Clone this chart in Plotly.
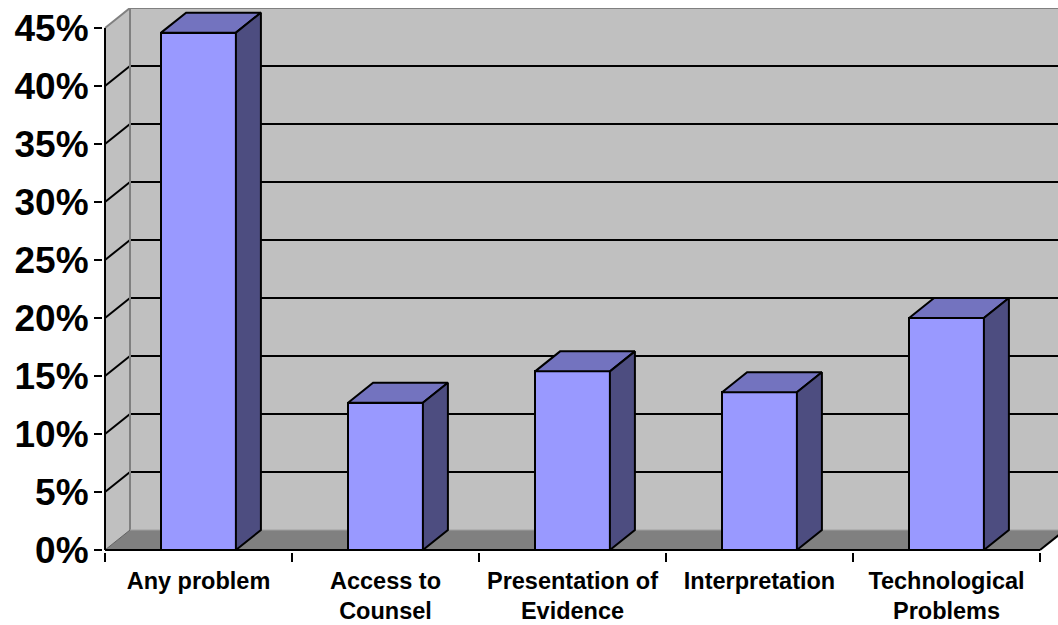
import plotly.graph_objects as go

# ---------------- data ----------------
categories = ["Any problem", "Access to<br>Counsel", "Presentation of<br>Evidence",
              "Interpretation", "Technological<br>Problems"]
values = [44.6, 12.7, 15.4, 13.6, 20.0]
y_ticks = [0, 5, 10, 15, 20, 25, 30, 35, 40, 45]
y_tick_labels = [f"{v}%" for v in y_ticks]

# ---------------- geometry (3D look) ----------------
W, H = 1058, 625
PX_X = 187.0          # pixels per category
PX_Y = 11.6           # pixels per percent
DX = 25 / PX_X        # depth offset in category units
DY = 20 / PX_Y        # depth offset in percent units
BAR_W = 0.40
YMAX = 45
N = len(categories)

FRONT = "#9999FF"
TOP = "#7373BF"
SIDE = "#4D4D80"
WALL = "#C0C0C0"
FLOOR = "#808080"
EDGE = "#808080"

fig = go.Figure()

# front faces
centers = [i + 0.5 for i in range(N)]
fig.add_trace(go.Bar(
    x=centers, y=values, width=BAR_W,
    marker=dict(color=FRONT, line=dict(color="black", width=2)),
    hoverinfo="skip", showlegend=False,
))

# top and side faces
for c, v in zip(centers, values):
    x0, x1 = c - BAR_W / 2, c + BAR_W / 2
    fig.add_trace(go.Scatter(
        x=[x0, x1, x1 + DX, x0 + DX, x0],
        y=[v, v, v + DY, v + DY, v],
        mode="lines", fill="toself", fillcolor=TOP,
        line=dict(color="black", width=2), hoverinfo="skip", showlegend=False))
    fig.add_trace(go.Scatter(
        x=[x1, x1 + DX, x1 + DX, x1, x1],
        y=[0, DY, v + DY, v, 0],
        mode="lines", fill="toself", fillcolor=SIDE,
        line=dict(color="black", width=2), hoverinfo="skip", showlegend=False))

shapes = []
XR = N + 2 * DX + 0.5
# back wall
shapes.append(dict(type="rect", xref="x", yref="y", x0=DX, x1=XR, y0=DY, y1=YMAX + DY,
                   fillcolor=WALL, line=dict(width=0), layer="below"))
# left wall
shapes.append(dict(type="path", xref="x", yref="y",
                   path=f"M 0 0 L {DX} {DY} L {DX} {YMAX + DY} L 0 {YMAX} Z",
                   fillcolor=WALL, line=dict(width=0), layer="below"))
# floor
shapes.append(dict(type="path", xref="x", yref="y",
                   path=f"M 0 0 L {N} 0 L {N + DX} {DY} L {XR} {DY} L {XR} {DY} L {DX} {DY} Z",
                   fillcolor=FLOOR, line=dict(width=0), layer="below"))
# gridlines
for v in y_ticks[1:-1]:
    shapes.append(dict(type="line", xref="x", yref="y", x0=0, y0=v, x1=DX, y1=v + DY,
                       line=dict(color="black", width=2), layer="below"))
    shapes.append(dict(type="line", xref="x", yref="y", x0=DX, y0=v + DY, x1=XR, y1=v + DY,
                       line=dict(color="black", width=2), layer="below"))
# wall edges (grey)
shapes.append(dict(type="line", xref="x", yref="y", x0=0, y0=YMAX, x1=DX, y1=YMAX + DY,
                   line=dict(color=EDGE, width=2), layer="below"))
shapes.append(dict(type="line", xref="x", yref="y", x0=DX, y0=YMAX + DY, x1=XR, y1=YMAX + DY,
                   line=dict(color=EDGE, width=2), layer="below"))
shapes.append(dict(type="line", xref="x", yref="y", x0=DX, y0=DY, x1=DX, y1=YMAX + DY,
                   line=dict(color=EDGE, width=2), layer="below"))
shapes.append(dict(type="line", xref="x", yref="y", x0=0, y0=0, x1=DX, y1=DY,
                   line=dict(color="#606060", width=1), layer="below"))
shapes.append(dict(type="line", xref="x", yref="y", x0=DX, y0=DY, x1=XR, y1=DY,
                   line=dict(color="#A0A0A0", width=1), layer="below"))
# floor right edge
shapes.append(dict(type="line", xref="x", yref="y", x0=N, y0=0, x1=N + DX, y1=DY,
                   line=dict(color="black", width=2), layer="below"))
# front axes lines
shapes.append(dict(type="line", xref="x", yref="y", x0=0, y0=0, x1=0, y1=YMAX,
                   line=dict(color="black", width=2), layer="above"))
shapes.append(dict(type="line", xref="x", yref="y", x0=0, y0=0, x1=N, y1=0,
                   line=dict(color="black", width=2), layer="above"))

L_MARGIN, T_MARGIN, B_MARGIN = 103, 8, 73
plot_w = W - L_MARGIN
plot_h = H - T_MARGIN - B_MARGIN
x_lo = -2 / PX_X
x_hi = x_lo + plot_w / PX_X
y_lo = -2 / PX_Y
y_hi = y_lo + plot_h / PX_Y

font_family = "Liberation Sans, Arial, sans-serif"
fig.update_layout(
    width=W, height=H, autosize=False,
    margin=dict(l=L_MARGIN, r=0, t=T_MARGIN, b=B_MARGIN, pad=0),
    paper_bgcolor="white", plot_bgcolor="white",
    shapes=shapes, bargap=0,
    xaxis=dict(range=[x_lo, x_hi], showgrid=False, zeroline=False, showline=False,
               tickvals=centers, ticktext=categories, ticks="",
               ticklabelstandoff=12,
               tickfont=dict(family=font_family, size=23.5, color="black", weight="bold"),
               minor=dict(tick0=0, dtick=1, ticks="outside", ticklen=9, tickwidth=2,
                          tickcolor="black", showgrid=False),
               fixedrange=True),
    yaxis=dict(range=[y_lo, y_hi], showgrid=False, zeroline=False, showline=False,
               tickvals=y_ticks, ticktext=y_tick_labels, ticks="outside", ticklen=8,
               tickwidth=2, tickcolor="black", ticklabelstandoff=-2,
               tickfont=dict(family=font_family, size=37, color="black", weight="bold"),
               fixedrange=True),
)

fig.write_html("out.html")
